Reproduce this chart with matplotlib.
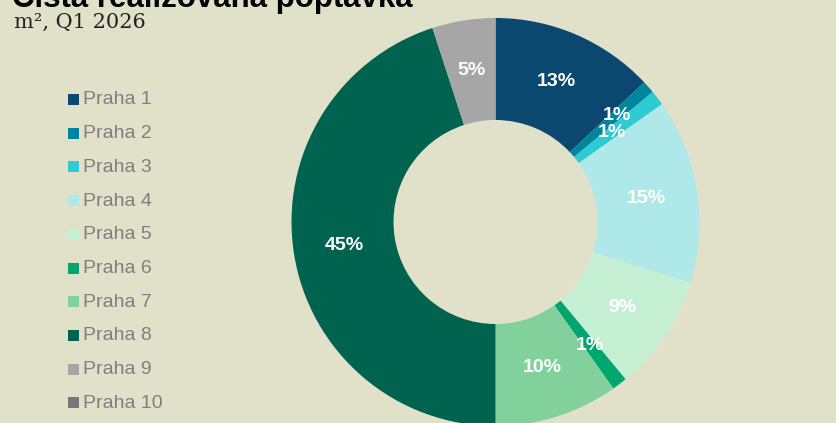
import matplotlib.pyplot as plt
from matplotlib.patches import Rectangle
import numpy as np

# share of net take-up by district, Q1 2026
districts = ["Praha 1", "Praha 2", "Praha 3", "Praha 4", "Praha 5",
             "Praha 6", "Praha 7", "Praha 8", "Praha 9", "Praha 10"]
shares = [13.0, 1.0, 1.2, 14.6, 9.2, 1.2, 9.8, 45.0, 5.0, 0.0]
labels = ["13%", "1%", "1%", "15%", "9%", "1%", "10%", "45%", "5%", ""]
colors = ["#0B4870", "#0085A1", "#2DCBD3", "#AEE8E8", "#C6F0D3",
          "#00A56F", "#82D09B", "#00634F", "#A6A6A6", "#75787B"]
# radial position of each label (fraction of outer radius)
label_r = [0.75, 0.79, 0.72, 0.75, 0.75, 0.76, 0.75, 0.75, 0.75, 0.75]

bg = "#E1E1CA"
W, H = 837, 423
fig = plt.figure(figsize=(W / 100, H / 100), dpi=100, facecolor=bg)

# donut axes: centre (495, 222) px from top, radius 204 px
cx, cy, R = 495.5, 222, 204
ax = fig.add_axes([(cx - R) / W, (H - cy - R) / H, 2 * R / W, 2 * R / H])
ax.set_facecolor(bg)
wedges, _ = ax.pie(shares, colors=colors, startangle=90, counterclock=False,
                   radius=1.0, wedgeprops=dict(width=0.5, linewidth=0))

total = sum(shares)
cum = 0
for s, lab, r in zip(shares, labels, label_r):
    mid = (cum + s / 2) / total
    cum += s
    if not lab:
        continue
    ang = np.deg2rad(90 - 360 * mid)
    ax.text(r * np.cos(ang), r * np.sin(ang), lab, ha="center", va="center",
            color="white", fontsize=14, fontweight="bold",
            family="Liberation Sans")
ax.set_xlim(-1, 1)
ax.set_ylim(-1, 1)
ax.set_aspect("equal")
ax.axis("off")

# title (cut off at the top like the original) and subtitle
fig.text(12 / W, 1 - 7 / H, "Čistá realizovaná poptávka", ha="left",
         va="baseline", fontsize=22.5, fontweight="bold", color="black",
         family="Liberation Sans")
fig.text(14 / W, 1 - 28 / H, "m², Q1 2026", ha="left", va="baseline",
         fontsize=15, color="#222222", family="DejaVu Serif")

# legend
y0, dy = 100, 33.7
for i, (name, c) in enumerate(zip(districts, colors)):
    y = y0 + i * dy
    fig.patches.append(Rectangle((68 / W, 1 - (y + 5) / H), 11 / W, 11 / H,
                                 transform=fig.transFigure, facecolor=c,
                                 edgecolor="none"))
    fig.text(83 / W, 1 - y / H, name, ha="left", va="center", fontsize=14,
             color="#7F7F7F", family="Liberation Sans")

fig.savefig("out.png", dpi=100, facecolor=bg)
